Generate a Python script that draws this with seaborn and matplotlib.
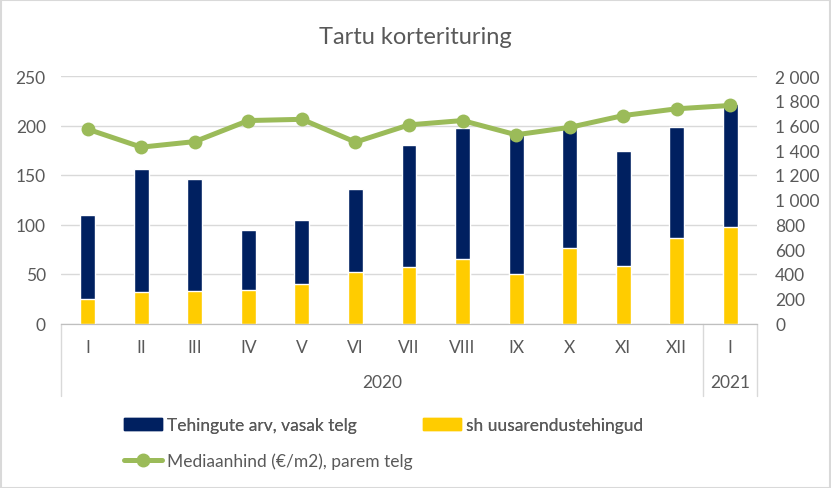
import pandas as pd
import matplotlib.pyplot as plt
import seaborn as sb
from matplotlib.patches import Patch, Rectangle
from matplotlib.lines import Line2D
import matplotlib.transforms as mtransforms

# Values
months = ["I", "II", "III", "IV", "V", "VI", "VII", "VIII", "IX", "X", "XI", "XII", "I"]
years = ["2020", "2021"]
deals_total = [110, 156, 146, 94, 105, 136, 180, 197, 190, 199, 174, 198, 222]
deals_new = [25, 32, 33, 34, 40, 52, 57, 65, 50, 76, 58, 86, 97]
median_price = [1570, 1425, 1470, 1640, 1650, 1466, 1605, 1640, 1525, 1585, 1680, 1735, 1762]
left_ticks = [0, 50, 100, 150, 200, 250]
right_ticks = [0, 200, 400, 600, 800, 1000, 1200, 1400, 1600, 1800, 2000]
right_tick_labels = ["0", "200", "400", "600", "800", "1 000", "1 200", "1 400",
                     "1 600", "1 800", "2 000"]

navy = "#002060"
yellow = "#FFCC00"
green = "#9BBB59"
grey_text = "#595959"

data = pd.DataFrame({"pos": list(range(len(months))), "total": deals_total,
                     "new": deals_new, "price": median_price})

sb.set_style("white")
plt.rcParams["font.family"] = ["Lato", "DejaVu Sans"]

fig = plt.figure(figsize=(8.31, 4.89), dpi=100)
ax = fig.add_axes([61 / 831, 1 - 324.5 / 489, (757 - 61) / 831, 247.5 / 489])

# bars: total deals with new-development deals drawn over them
sb.barplot(data=data, x="pos", y="total", color=navy, width=0.28, saturation=1,
           errorbar=None, ax=ax, zorder=2)
sb.barplot(data=data, x="pos", y="new", color=yellow, width=0.28, saturation=1,
           errorbar=None, ax=ax, zorder=3)

# median price on the right axis
ax2 = ax.twinx()
sb.lineplot(data=data, x="pos", y="price", color=green, linewidth=3.6, marker="o",
            markersize=10, markeredgewidth=0, ax=ax2)

ax.set_xlim(-0.5, len(months) - 0.5)
ax.set_ylim(0, 250)
ax2.set_ylim(0, 2000)
ax.set_yticks(left_ticks)
ax2.set_yticks(right_ticks)
ax2.set_yticklabels(right_tick_labels)
ax.set_xticks(range(len(months)))
ax.set_xticklabels(months)
ax.set_xlabel("")
ax.set_ylabel("")
ax2.set_xlabel("")
ax2.set_ylabel("")

ax.yaxis.grid(True, color="#d9d9d9", linewidth=1)
ax.set_axisbelow(True)
for a in (ax, ax2):
    for side in ("top", "left", "right"):
        a.spines[side].set_visible(False)
    a.spines["bottom"].set_color("#bfbfbf")
ax.tick_params(axis="x", length=0, pad=11, labelsize=12.5, colors=grey_text)
ax.tick_params(axis="y", length=0, pad=11, labelsize=12.5, colors=grey_text)
ax2.tick_params(axis="y", length=0, pad=13, labelsize=12.5, colors=grey_text)

# multi-level category axis: year labels and separators
trans = mtransforms.blended_transform_factory(ax.transData, ax.transAxes)
ax.text(5.5, -0.236, years[0], transform=trans, ha="center", va="center",
        fontsize=12.5, color=grey_text)
ax.text(12, -0.236, years[1], transform=trans, ha="center", va="center",
        fontsize=12.5, color=grey_text)
for x in (-0.5, 11.5, 12.5):
    ax.plot([x, x], [0, -0.293], transform=trans, color="#d9d9d9", linewidth=1,
            clip_on=False)

fig.text(0.5, 1 - 37 / 489, "Tartu korterituring", ha="center", va="center",
         fontsize=17, color=grey_text)

# legend: two entries on first row, line on the second
bar_handles = [Patch(color=navy), Patch(color=yellow)]
leg1 = fig.legend(bar_handles, ["Tehingute arv, vasak telg", "sh uusarendustehingud"],
                  ncol=2, loc="center left", bbox_to_anchor=(108 / 831, 1 - 426 / 489),
                  frameon=False, fontsize=12.5, handlelength=2.2, handletextpad=0.3,
                  columnspacing=3.8, labelcolor=grey_text)
line_handle = [Line2D([], [], color=green, linewidth=3.6, marker="o", markersize=9)]
fig.legend(line_handle, ["Mediaanhind (€/m2), parem telg"], loc="center left",
           bbox_to_anchor=(108 / 831, 1 - 462 / 489), frameon=False, fontsize=12.5,
           handlelength=2.2, handletextpad=0.3, labelcolor=grey_text)
fig.add_artist(leg1)

# thin frame around the chart
fig.patches.append(Rectangle((0.001, 0.001), 0.998, 0.997, transform=fig.transFigure,
                             fill=False, edgecolor="#d9d9d9", linewidth=1.5))

plt.savefig("out.png", dpi=100)
